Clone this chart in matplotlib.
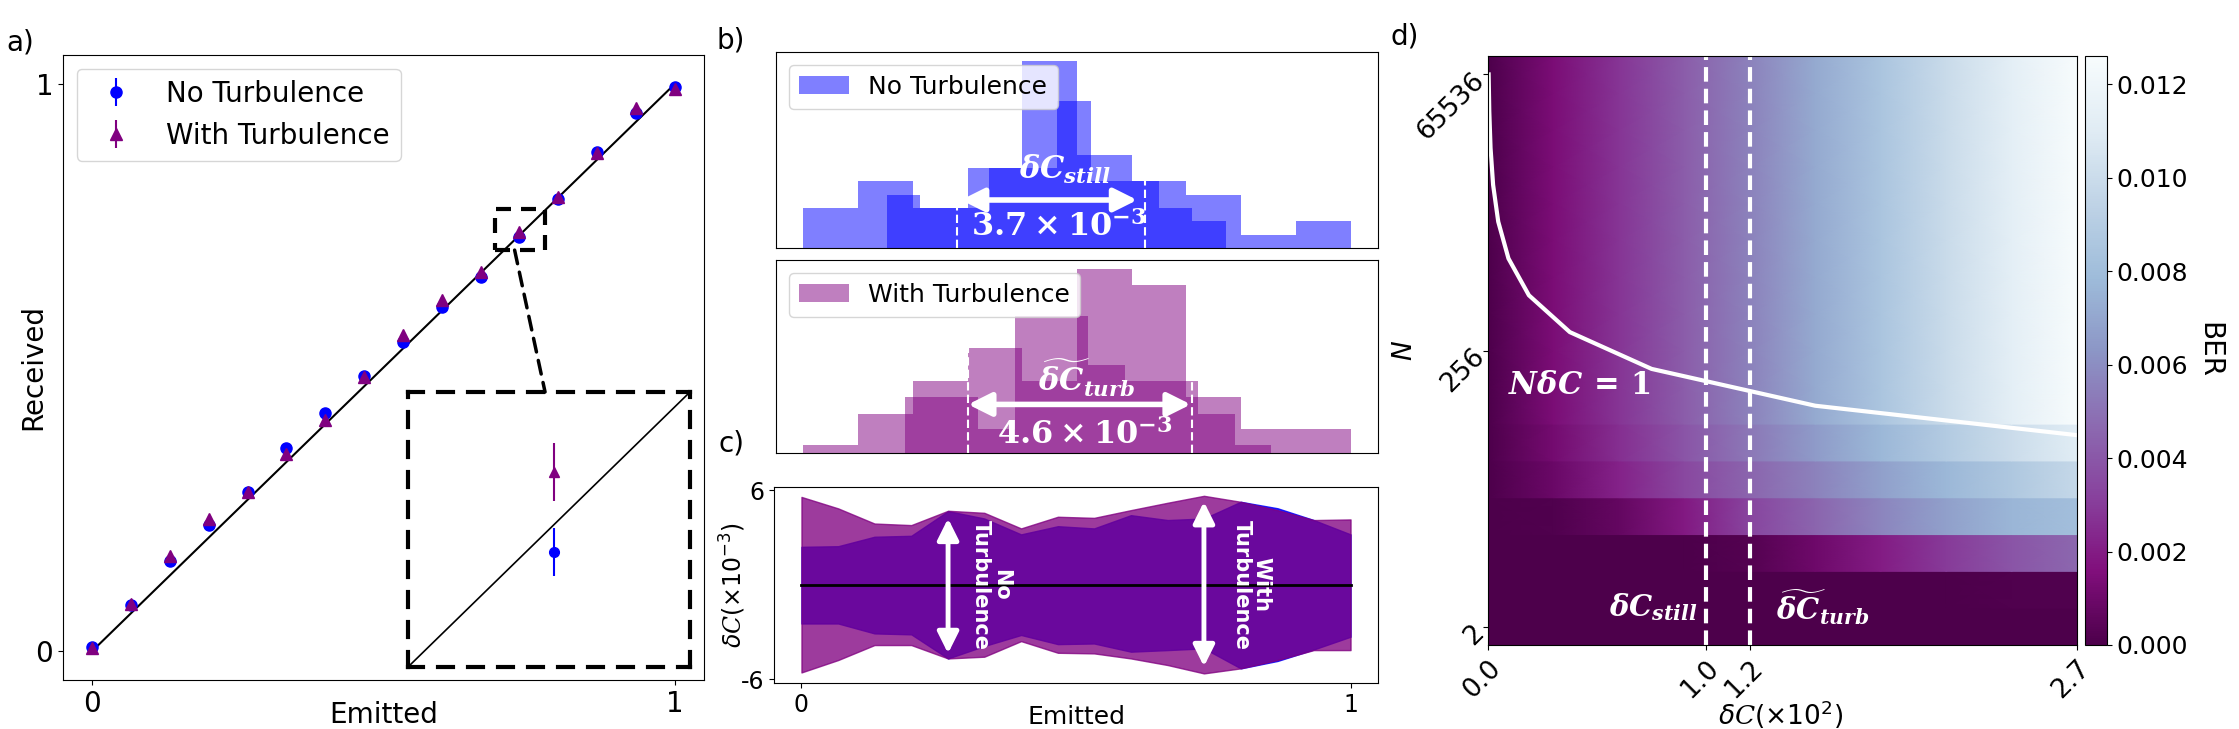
import numpy as np
import matplotlib
matplotlib.use("Agg")
import matplotlib.pyplot as plt
from matplotlib.patches import Rectangle, ConnectionPatch

plt.rcParams["font.family"] = ["DejaVu Sans"]
plt.rcParams["mathtext.fontset"] = "custom"
plt.rcParams["mathtext.rm"] = "DejaVu Sans"
plt.rcParams["mathtext.it"] = "DejaVu Serif:italic:bold"
plt.rcParams["mathtext.bf"] = "DejaVu Serif:bold"
plt.rcParams["mathtext.sf"] = "DejaVu Sans:italic"
plt.rcParams["mathtext.cal"] = "DejaVu Serif:italic"

# ---- panel a: received vs emitted ----
emitted = [0.0, 0.067, 0.133, 0.2, 0.267, 0.333, 0.4, 0.467,
           0.533, 0.6, 0.667, 0.733, 0.8, 0.867, 0.933, 1.0]
received_still = [0.007, 0.081, 0.159, 0.222, 0.280, 0.358, 0.419, 0.485,
                  0.545, 0.606, 0.660, 0.730, 0.797, 0.880, 0.949, 0.994]
received_turb = [0.005, 0.083, 0.167, 0.233, 0.281, 0.347, 0.408, 0.483,
                 0.557, 0.619, 0.668, 0.739, 0.801, 0.878, 0.957, 0.991]
err_still = [0.003, 0.002, 0.003, 0.003, 0.002, 0.003, 0.003, 0.002,
             0.003, 0.003, 0.002, 0.0027, 0.003, 0.002, 0.003, 0.003]
err_turb = [0.003, 0.003, 0.004, 0.003, 0.003, 0.004, 0.003, 0.003,
            0.004, 0.003, 0.003, 0.0033, 0.004, 0.003, 0.003, 0.003]
zoom_box = [0.692, 0.707, 0.086, 0.073]  # x, y, w, h of the small box
inset_range = [0.717, 0.748]

# ---- panel b: histograms (x in units of 1e-3, arbitrary origin) ----
still_edges_a = [0, 1, 2, 3, 4, 5, 6, 7, 8, 9, 10]
still_counts_a = [3, 5, 3, 6, 14, 7, 5, 4, 1, 2]
still_edges_b = [1.52, 2.14, 2.77, 3.39, 4.01, 4.63, 5.25, 5.87, 6.49, 7.11, 7.73]
still_counts_b = [4, 3, 3, 6, 6, 11, 5, 5, 3, 2]
still_bounds = [2.80, 6.25]

turb_edges_a = [0, 1, 2, 3, 4, 5, 6, 7, 8, 9, 10]
turb_counts_a = [0.6, 3.0, 5.5, 8.0, 5.5, 14.0, 12.8, 4.3, 1.8, 1.8]
turb_edges_b = [1.85, 2.52, 3.19, 3.86, 4.53, 5.20, 5.87, 6.54, 7.21, 7.88, 8.55]
turb_counts_b = [4.3, 4.3, 1.8, 10.4, 10.4, 6.7, 5.5, 5.5, 3.0, 0.6]
turb_bounds = [3.01, 7.11]

# ---- panel c: spread of received values (x1e-3) ----
turb_upper = [5.57, 4.84, 3.88, 3.78, 4.69, 4.56, 3.57, 4.31,
              4.24, 4.73, 5.20, 5.64, 5.26, 4.73, 4.10, 4.14]
turb_lower = [-5.58, -4.79, -3.84, -3.84, -4.69, -4.58, -3.59, -4.33,
              -4.37, -4.69, -5.11, -5.64, -5.32, -4.79, -4.16, -4.16]
still_upper = [2.40, 2.44, 3.04, 3.10, 4.67, 4.20, 3.19, 3.71,
               3.57, 4.41, 4.10, 4.20, 5.26, 4.85, 4.10, 3.19]
still_lower = [-2.47, -2.47, -3.10, -3.16, -4.69, -3.90, -3.20, -3.78,
               -3.74, -4.26, -4.16, -4.05, -5.32, -4.85, -4.12, -3.31]

# ---- panel d: BER map ----
dc_cols = [0.0, 0.3, 0.6, 0.9, 1.2, 1.5, 1.8, 2.1, 2.4, 2.7]
ber_n2 = [0.0, 0.0, 0.0, 0.0, 0.0, 0.0, 0.0, 0.0, 0.0, 0.0]
ber_n4 = [0.0, 0.0, 0.0, 0.0, 0.0, 0.0, 0.0, 0.0, 0.0001, 0.0001]
ber_n8 = [0.0, 0.0, 0.0, 0.0, 0.0002, 0.0010, 0.0020, 0.0030, 0.0039, 0.0046]
ber_n16 = [0.0, 0.0001, 0.0007, 0.0019, 0.0033, 0.0045, 0.0057, 0.0067, 0.0076, 0.0081]
ber_n32 = [0.0, 0.0009, 0.0022, 0.0034, 0.0045, 0.0056, 0.0067, 0.0077, 0.0087, 0.0097]
ber_n64 = [0.0, 0.0012, 0.0026, 0.0039, 0.0052, 0.0065, 0.0077, 0.0089, 0.0100, 0.0111]
ber_large = [0.0, 0.0014, 0.0028, 0.0042, 0.0056, 0.0071, 0.0085, 0.0099, 0.0113, 0.0126]
n_rows = [2, 4, 8, 16, 32, 64, 128, 256, 512, 1024, 2048, 4096,
          8192, 16384, 32768, 65536]
curve_dc = [0.0029, 0.0059, 0.0117, 0.0234, 0.0469, 0.0938, 0.1875,
            0.375, 0.75, 1.5, 3.0]
curve_row = [15, 14, 13, 12, 11, 10, 9, 8, 7, 6, 5]
dc_still, dc_turb = 1.0, 1.2

W, H = 2239, 729


def frac(left, top, right, bottom):
    return [left / W, 1 - bottom / H, (right - left) / W, (bottom - top) / H]


fig = plt.figure(figsize=(W / 100, H / 100), dpi=100)

# ================= panel a =================
ax_a = fig.add_axes(frac(63, 55, 704, 680))
ax_a.plot([0, 1], [0, 1], color="black", lw=1.5, zorder=1)
ax_a.errorbar(emitted, received_still, yerr=err_still, fmt="o", color="blue",
              ms=8, label="No Turbulence")
ax_a.errorbar(emitted, received_turb, yerr=err_turb, fmt="^", color="purple",
              ms=8, label="With Turbulence")
ax_a.set_xlim(-0.05, 1.05)
ax_a.set_ylim(-0.051, 1.051)
ax_a.set_xticks([0, 1])
ax_a.set_xticklabels(["0", "1"])
ax_a.set_yticks([0, 1])
ax_a.set_yticklabels(["0", "1"])
ax_a.tick_params(labelsize=20)
ax_a.set_xlabel("Emitted", fontsize=20)
ax_a.set_ylabel("Received", fontsize=20)
ax_a.xaxis.set_label_coords(0.5, -0.034)
ax_a.yaxis.set_label_coords(-0.025, 0.5)
ax_a.legend(loc="upper left", fontsize=20)
ax_a.add_patch(Rectangle((zoom_box[0], zoom_box[1]), zoom_box[2], zoom_box[3],
                         fill=False, edgecolor="black", lw=3,
                         linestyle=(0, (3.6, 2.4))))

ax_in = fig.add_axes(frac(408, 392, 690, 667))
ax_in.plot([0, 1], [0, 1], color="black", lw=1.2)
ax_in.errorbar(emitted, received_still, yerr=err_still, fmt="o", color="blue", ms=7)
ax_in.errorbar(emitted, received_turb, yerr=err_turb, fmt="^", color="purple", ms=7)
ax_in.set_xlim(inset_range)
ax_in.set_ylim(inset_range)
ax_in.set_xticks([])
ax_in.set_yticks([])
for s in ax_in.spines.values():
    s.set_linestyle((0, (3.6, 3.6)))
    s.set_linewidth(3)

con = ConnectionPatch(xyA=(0.725, zoom_box[1]), coordsA=ax_a.transData,
                      xyB=(0.486, 1.0), coordsB=ax_in.transAxes,
                      color="black", lw=2.5, linestyle=(0, (4, 2.5)))
fig.add_artist(con)

# ================= panel b =================
white_arrow = dict(arrowstyle="<|-|>", color="white", lw=4, mutation_scale=35,
                   shrinkA=0, shrinkB=0)

ax_b1 = fig.add_axes(frac(776, 52, 1378, 248))
ax_b1.stairs(still_counts_a, still_edges_a, fill=True, color="blue", alpha=0.5,
             label="No Turbulence")
ax_b1.stairs(still_counts_b, still_edges_b, fill=True, color="blue", alpha=0.5)
ax_b1.set_xlim(-0.5, 10.5)
ax_b1.set_ylim(0, 14.7)
for x in still_bounds:
    ax_b1.axvline(x, color="white", lw=1.5, linestyle=(0, (4, 2)))
ax_b1.annotate("", xy=(still_bounds[0] + 0.08, 3.6), xytext=(still_bounds[1] - 0.15, 3.6),
               arrowprops=white_arrow)
ax_b1.text(4.79, 5.9, r"$\delta C_{still}$", color="white", fontsize=22,
           ha="center", va="center")
ax_b1.text(4.66, 1.6, r"$\mathbf{3.7\times10^{-3}}$", color="white", fontsize=23,
           ha="center", va="center")
ax_b1.set_xticks([])
ax_b1.set_yticks([])
ax_b1.legend(loc="upper left", fontsize=18)

ax_b2 = fig.add_axes(frac(776, 260, 1378, 453))
ax_b2.stairs(turb_counts_a, turb_edges_a, fill=True, color="purple", alpha=0.5,
             label="With Turbulence")
ax_b2.stairs(turb_counts_b, turb_edges_b, fill=True, color="purple", alpha=0.5)
ax_b2.set_xlim(-0.5, 10.5)
ax_b2.set_ylim(0, 14.7)
for x in turb_bounds:
    ax_b2.axvline(x, color="white", lw=1.5, linestyle=(0, (4, 2)))
ax_b2.annotate("", xy=(turb_bounds[0], 3.7), xytext=(turb_bounds[1] - 0.03, 3.7),
               arrowprops=white_arrow)
ax_b2.text(5.18, 5.7, r"$\widetilde{\delta C}_{turb}$", color="white", fontsize=22,
           ha="center", va="center")
ax_b2.text(5.15, 1.4, r"$\mathbf{4.6\times10^{-3}}$", color="white", fontsize=23,
           ha="center", va="center")
ax_b2.set_xticks([])
ax_b2.set_yticks([])
ax_b2.legend(loc="upper left", fontsize=18)

# ================= panel c =================
ax_c = fig.add_axes(frac(774, 487, 1378, 683))
ax_c.fill_between(emitted, still_lower, still_upper, color="blue", alpha=0.85, lw=1)
ax_c.fill_between(emitted, turb_lower, turb_upper, color="purple", alpha=0.77, lw=1)
ax_c.plot([emitted[0], emitted[-1]], [0, 0], color="black", lw=2)
ax_c.set_xlim(-0.05, 1.05)
ax_c.set_ylim(-6.25, 6.2)
ax_c.set_xticks([0, 1])
ax_c.set_xticklabels(["0", "1"])
ax_c.set_yticks([-6, 6])
ax_c.set_yticklabels(["-6", "6"])
ax_c.tick_params(labelsize=17)
ax_c.set_xlabel("Emitted", fontsize=18)
ax_c.set_ylabel(r"$\mathsf{\delta}\mathcal{C}\mathrm{(\times10^{-3})}$", fontsize=17)
ax_c.xaxis.set_label_coords(0.5, -0.11)
ax_c.yaxis.set_label_coords(-0.043, 0.5)
c_arrow = dict(white_arrow, lw=3.5, mutation_scale=32)
ax_c.annotate("", xy=(emitted[4], 4.2), xytext=(emitted[4], -4.37), arrowprops=c_arrow)
ax_c.annotate("", xy=(emitted[11], 5.26), xytext=(emitted[11], -5.2), arrowprops=c_arrow)
ax_c.text(0.345, 0.0, "No\nTurbulence", rotation=-90, color="white",
          fontsize=15, fontweight="bold", ha="center", va="center",
          multialignment="center", linespacing=1.0)
ax_c.text(0.82, 0.0, "With\nTurbulence", rotation=-90, color="white",
          fontsize=15, fontweight="bold", ha="center", va="center",
          multialignment="center", linespacing=1.0)

# ================= panel d =================
ax_d = fig.add_axes(frac(1488, 56, 2077, 645))
row_vals = ([ber_n2, ber_n4, ber_n8, ber_n16, ber_n32, ber_n64]
            + [ber_large] * (len(n_rows) - 6))
cols = np.array(dc_cols)
mesh = None
for i, vals in enumerate(row_vals):
    X = np.vstack([cols, cols])
    Y = np.vstack([np.full(cols.size, i - 0.5), np.full(cols.size, i + 0.5)])
    C = np.vstack([vals, vals])
    mesh = ax_d.pcolormesh(X, Y, C, shading="gouraud", cmap="BuPu_r",
                           vmin=0, vmax=0.0126, rasterized=True)
ax_d.plot(curve_dc, curve_row, color="white", lw=3)
for x in (dc_still, dc_turb):
    ax_d.axvline(x, color="white", lw=3, linestyle=(0, (3.5, 1.7)))
ax_d.set_xlim(0, 2.7)
ax_d.set_ylim(-0.5, len(n_rows) - 0.5)
ax_d.set_xticks([0.0, dc_still, dc_turb, 2.7])
ax_d.set_xticklabels(["0.0", "1.0", "1.2", "2.7"], rotation=45, ha="right",
                     rotation_mode="anchor")
ax_d.set_yticks([0, 7.5, 15])
ax_d.set_yticklabels([str(n_rows[0]), str(n_rows[7]), str(n_rows[-1])],
                     rotation=45, ha="right", rotation_mode="anchor")
ax_d.tick_params(labelsize=19)
ax_d.set_xlabel(r"$\mathsf{\delta}\mathcal{C}\mathrm{(\times10^{2})}$", fontsize=19)
ax_d.set_ylabel("N", fontsize=19, style="italic")
ax_d.xaxis.set_label_coords(0.496, -0.09)
ax_d.yaxis.set_label_coords(-0.12, 0.5)
ax_d.text(0.09, 6.55, r"$N\delta C\mathbf{\,=\,1}$", color="white", fontsize=22,
          ha="left", va="center")
ax_d.text(0.96, 0.52, r"$\delta C_{still}$", color="white", fontsize=21,
          ha="right", va="center")
ax_d.text(1.32, 0.52, r"$\widetilde{\delta C}_{turb}$", color="white", fontsize=21,
          ha="left", va="center")

cax = fig.add_axes(frac(2085, 56, 2107, 645))
cbar = fig.colorbar(mesh, cax=cax)
cbar.set_ticks([0.0, 0.002, 0.004, 0.006, 0.008, 0.010, 0.012])
cbar.set_ticklabels(["0.000", "0.002", "0.004", "0.006", "0.008", "0.010", "0.012"])
cax.tick_params(labelsize=18)
cax.set_ylabel("BER", fontsize=20, rotation=270, va="bottom")
cax.yaxis.set_label_coords(5.0, 0.5)

# panel letters
for letter, (px, py) in zip(["a)", "b)", "c)", "d)"],
                            [(20, 42), (731, 40), (731, 443), (1405, 37)]):
    fig.text(px / W, 1 - py / H, letter, fontsize=20, ha="center", va="center")

fig.savefig("out.png", dpi=100)
